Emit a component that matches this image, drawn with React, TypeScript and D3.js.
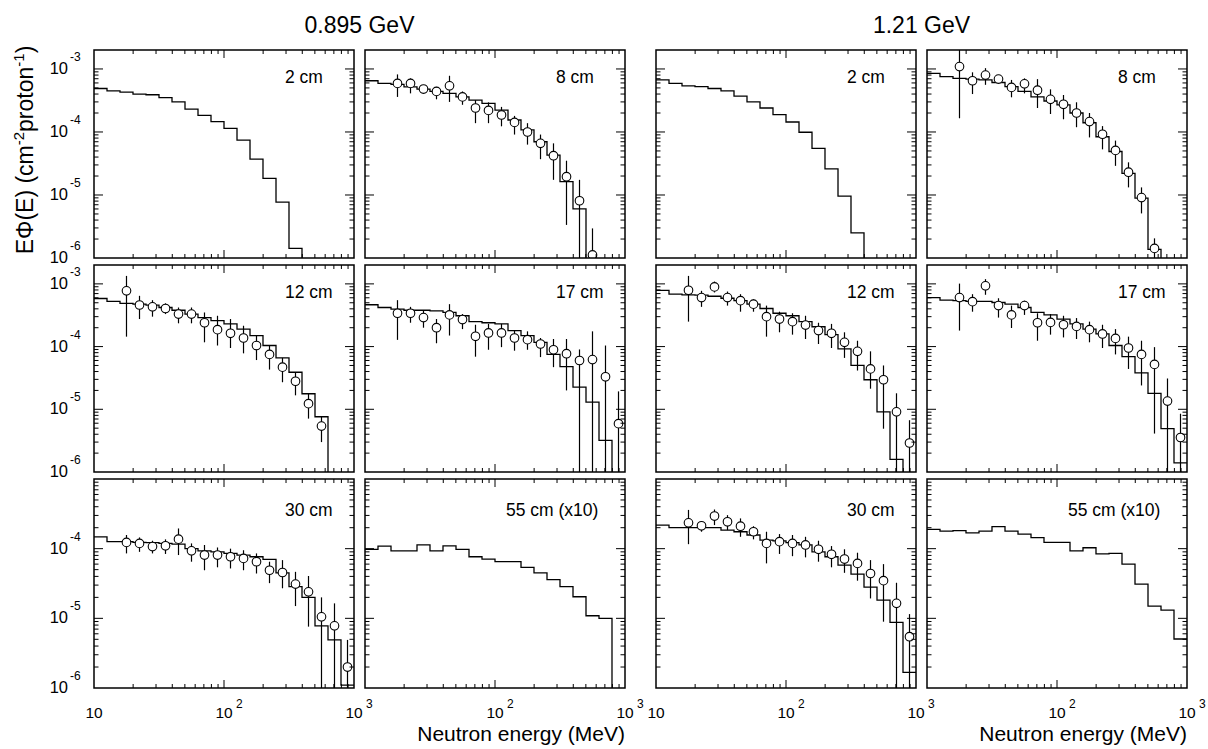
import React from "react";
import * as d3 from "d3";

// histogram bin edges in MeV (10 bins per decade)
const binEdges = [10, 12.59, 15.85, 19.95, 25.12, 31.62, 39.81, 50.12, 63.1, 79.43, 100,
  125.9, 158.5, 199.5, 251.2, 316.2, 398.1, 501.2, 631, 794.3, 1000];
// measured points sit at the centres of bins 2..19
const pointEnergy = [17.78, 22.39, 28.18, 35.48, 44.67, 56.23, 70.79, 89.13, 112.2, 141.3,
  177.8, 223.9, 281.8, 354.8, 446.7, 562.3, 707.9, 891.3];

const beamLabels = ["0.895 GeV", "1.21 GeV"];
const xTickLabels = [10, 100, 1000];

// ---- 0.895 GeV ----
const calc0895_2cm = [4.9e-4, 4.5e-4, 4.3e-4, 4.0e-4, 3.9e-4, 3.5e-4, 3.0e-4, 2.3e-4, 1.84e-4, 1.46e-4,
  1.14e-4, 7.4e-5, 3.7e-5, 1.84e-5, 7.7e-6, 1.42e-6, 0, 0, 0, 0];

const calc0895_8cm = [6.5e-4, 5.9e-4, 5.7e-4, 5.2e-4, 4.8e-4, 4.4e-4, 4.1e-4, 3.6e-4, 3.2e-4, 2.85e-4,
  2.23e-4, 1.55e-4, 1.08e-4, 7.0e-5, 4.3e-5, 1.63e-5, 6.0e-6, 0, 0, 0];
const meas0895_8cm = [5.9e-4, 5.9e-4, 4.8e-4, 4.4e-4, 5.4e-4, 3.6e-4, 2.4e-4, 2.2e-4, 1.86e-4, 1.42e-4,
  1.0e-4, 6.6e-5, 4.2e-5, 1.95e-5, 8.1e-6, 1.12e-6];
const hi0895_8cm = [8.2e-4, 7.1e-4, 5.2e-4, 5.2e-4, 7.8e-4, 4.4e-4, 3.2e-4, 2.95e-4, 2.5e-4, 1.8e-4,
  1.38e-4, 9.1e-5, 6.6e-5, 3.5e-5, 1.74e-5, 2.95e-6];
const lo0895_8cm = [3.6e-4, 4.1e-4, 4.4e-4, 3.3e-4, 3.0e-4, 2.7e-4, 1.38e-4, 1.38e-4, 1.23e-4, 9.1e-5,
  6.3e-5, 3.7e-5, 1.74e-5, 3.35e-6, 0, 0];

const calc0895_12cm = [5.85e-4, 5.25e-4, 4.9e-4, 4.75e-4, 4.6e-4, 4.2e-4, 3.8e-4, 3.3e-4, 2.9e-4, 2.6e-4,
  2.3e-4, 1.9e-4, 1.5e-4, 1.04e-4, 6.6e-5, 3.9e-5, 1.77e-5, 7.6e-6, 0, 0];
const meas0895_12cm = [7.75e-4, 4.6e-4, 4.3e-4, 4.05e-4, 3.3e-4, 3.3e-4, 2.4e-4, 1.86e-4, 1.63e-4, 1.37e-4,
  1.04e-4, 7.5e-5, 4.7e-5, 2.8e-5, 1.23e-5, 5.4e-6];
const hi0895_12cm = [1.34e-3, 6.45e-4, 5.5e-4, 4.9e-4, 4.2e-4, 4.2e-4, 3.5e-4, 3.1e-4, 2.75e-4, 2.15e-4,
  1.5e-4, 1.04e-4, 6.6e-5, 3.9e-5, 1.77e-5, 7.6e-6];
const lo0895_12cm = [1.44e-4, 2.75e-4, 3.0e-4, 3.3e-4, 2.35e-4, 2.35e-4, 1.17e-4, 1.04e-4, 9.5e-5, 7.8e-5,
  6.1e-5, 4.3e-5, 2.7e-5, 1.67e-5, 7.1e-6, 3.0e-6];

const calc0895_17cm = [4.65e-4, 4.2e-4, 3.96e-4, 3.8e-4, 3.8e-4, 3.7e-4, 3.5e-4, 3.1e-4, 2.5e-4, 2.4e-4,
  2.3e-4, 1.8e-4, 1.5e-4, 1.17e-4, 7.5e-5, 4.8e-5, 2.26e-5, 1.3e-5, 3.2e-6, 0];
const meas0895_17cm = [3.4e-4, 3.4e-4, 2.9e-4, 2.0e-4, 3.2e-4, 2.7e-4, 1.46e-4, 1.65e-4, 1.65e-4, 1.37e-4,
  1.29e-4, 1.1e-4, 8.9e-5, 7.7e-5, 6.0e-5, 6.2e-5, 3.3e-5, 5.9e-6];
const hi0895_17cm = [5.5e-4, 4.3e-4, 3.7e-4, 2.75e-4, 4.75e-4, 3.3e-4, 2.23e-4, 2.3e-4, 2.3e-4, 1.8e-4,
  1.75e-4, 1.37e-4, 1.32e-4, 1.32e-4, 9.0e-5, 1.75e-4, 1.04e-4, 1.93e-5];
const lo0895_17cm = [1.28e-4, 2.4e-4, 2.0e-4, 1.13e-4, 1.5e-4, 1.9e-4, 6.9e-5, 8.9e-5, 9.8e-5, 8.6e-5,
  8.9e-5, 6.8e-5, 4.7e-5, 2.0e-5, 0, 0, 0, 0];

const calc0895_30cm = [1.48e-4, 1.26e-4, 1.26e-4, 1.23e-4, 1.22e-4, 1.19e-4, 1.16e-4, 1.0e-4, 9.3e-5, 9.0e-5,
  8.55e-5, 8.1e-5, 7.65e-5, 7.0e-5, 4.5e-5, 2.85e-5, 2.0e-5, 7.8e-6, 4.9e-6, 1.1e-6];
const meas0895_30cm = [1.23e-4, 1.19e-4, 1.07e-4, 1.1e-4, 1.37e-4, 9.3e-5, 8.1e-5, 8.1e-5, 7.65e-5, 7.25e-5,
  6.5e-5, 4.9e-5, 4.55e-5, 3.1e-5, 2.4e-5, 1.05e-5, 7.8e-6, 2.0e-6];
const hi0895_30cm = [1.57e-4, 1.45e-4, 1.3e-4, 1.36e-4, 1.95e-4, 1.19e-4, 1.13e-4, 1.04e-4, 1.0e-4, 9.5e-5,
  8.55e-5, 6.5e-5, 6.85e-5, 4.65e-5, 4.05e-5, 2.0e-5, 1.64e-5, 4.9e-6];
const lo0895_30cm = [8.55e-5, 9.0e-5, 8.55e-5, 8.4e-5, 8.1e-5, 6.5e-5, 4.9e-5, 5.4e-5, 5.2e-5, 4.9e-5,
  4.4e-5, 3.2e-5, 2.7e-5, 1.5e-5, 7.6e-6, 0, 0, 0];

const calc0895_55cm = [9.8e-5, 1.09e-4, 9.3e-5, 9.3e-5, 1.13e-4, 9.3e-5, 1.1e-4, 9.8e-5, 7.65e-5, 7.1e-5,
  6.5e-5, 6.5e-5, 5.4e-5, 4.5e-5, 3.6e-5, 2.85e-5, 2.04e-5, 1.09e-5, 1.0e-5, 0];

// ---- 1.21 GeV ----
const calc121_2cm = [6.7e-4, 5.9e-4, 5.4e-4, 5.25e-4, 4.9e-4, 4.5e-4, 3.7e-4, 3.0e-4, 2.4e-4, 1.88e-4,
  1.44e-4, 9.9e-5, 5.5e-5, 2.6e-5, 9.6e-6, 2.5e-6, 0, 0, 0, 0];

const calc121_8cm = [8.5e-4, 7.55e-4, 7.1e-4, 6.9e-4, 6.7e-4, 6.1e-4, 5.25e-4, 4.4e-4, 3.6e-4, 3.1e-4,
  2.7e-4, 2.0e-4, 1.4e-4, 8.4e-5, 4.9e-5, 2.2e-5, 8.9e-6, 1.37e-6, 0, 0];
const meas121_8cm = [1.09e-3, 6.5e-4, 8.0e-4, 6.9e-4, 5.1e-4, 5.8e-4, 4.6e-4, 3.3e-4, 2.75e-4, 2.0e-4,
  1.46e-4, 9.2e-5, 5.1e-5, 2.3e-5, 9.1e-6, 1.42e-6];
const hi121_8cm = [3.0e-3, 8.85e-4, 1.03e-3, 7.7e-4, 6.7e-4, 7.1e-4, 6.9e-4, 4.75e-4, 3.86e-4, 2.96e-4,
  2.0e-4, 1.24e-4, 7.3e-5, 3.3e-5, 1.32e-5, 2.05e-6];
const lo121_8cm = [1.65e-4, 4.0e-4, 5.6e-4, 6.1e-4, 3.55e-4, 4.1e-4, 2.4e-4, 1.93e-4, 1.59e-4, 1.19e-4,
  8.2e-5, 5.3e-5, 2.9e-5, 1.32e-5, 5.1e-6, 0];

const calc121_12cm = [7.9e-4, 6.85e-4, 6.7e-4, 6.6e-4, 6.35e-4, 5.9e-4, 5.4e-4, 4.75e-4, 4.05e-4, 3.4e-4,
  3.1e-4, 2.5e-4, 2.07e-4, 1.55e-4, 9.2e-5, 5.0e-5, 2.96e-5, 9.1e-6, 1.59e-6, 0];
const meas121_12cm = [7.9e-4, 6.05e-4, 8.95e-4, 6.05e-4, 5.4e-4, 4.75e-4, 3.0e-4, 2.75e-4, 2.5e-4, 2.2e-4,
  1.8e-4, 1.63e-4, 1.17e-4, 8.4e-5, 4.4e-5, 2.96e-5, 9.1e-6, 2.9e-6];
const hi121_12cm = [1.34e-3, 7.75e-4, 1.09e-3, 7.55e-4, 6.85e-4, 5.7e-4, 4.5e-4, 3.6e-4, 3.4e-4, 3.1e-4,
  2.4e-4, 2.3e-4, 1.69e-4, 1.24e-4, 8.4e-5, 5.0e-5, 1.8e-5, 6.7e-6];
const lo121_12cm = [2.5e-4, 4.3e-4, 7.3e-4, 4.5e-4, 3.6e-4, 3.6e-4, 1.44e-4, 1.69e-4, 1.55e-4, 1.32e-4,
  1.1e-4, 9.5e-5, 6.6e-5, 4.15e-5, 2.13e-5, 4.9e-6, 0, 0];

const calc121_17cm = [6.05e-4, 5.5e-4, 5.4e-4, 5.25e-4, 5.25e-4, 5.05e-4, 4.75e-4, 4.2e-4, 3.5e-4, 3.2e-4,
  2.75e-4, 2.3e-4, 1.9e-4, 1.59e-4, 1.04e-4, 6.9e-5, 3.8e-5, 1.8e-5, 4.9e-6, 1.4e-6];
const meas121_17cm = [6.05e-4, 5.2e-4, 9.3e-4, 4.5e-4, 3.2e-4, 4.5e-4, 2.4e-4, 2.43e-4, 2.23e-4, 2.1e-4,
  1.86e-4, 1.59e-4, 1.35e-4, 9.5e-5, 7.5e-5, 5.2e-5, 1.35e-5, 3.55e-6];
const hi121_17cm = [1.01e-3, 6.85e-4, 1.19e-3, 5.9e-4, 4.5e-4, 5.4e-4, 3.4e-4, 3.3e-4, 3.1e-4, 2.85e-4,
  2.5e-4, 2.23e-4, 1.9e-4, 1.44e-4, 1.24e-4, 9.8e-5, 3.1e-5, 8.5e-6];
const lo121_17cm = [1.8e-4, 3.6e-4, 6.7e-4, 2.9e-4, 1.98e-4, 3.2e-4, 1.24e-4, 1.55e-4, 1.4e-4, 1.32e-4,
  1.17e-4, 9.5e-5, 7.5e-5, 4.4e-5, 2.4e-5, 4.1e-6, 0, 0];

const calc121_30cm = [2.18e-4, 2.0e-4, 2.0e-4, 2.0e-4, 2.0e-4, 1.85e-4, 1.75e-4, 1.57e-4, 1.33e-4, 1.29e-4,
  1.22e-4, 1.13e-4, 9.0e-5, 7.65e-5, 5.8e-5, 4.3e-5, 2.8e-5, 1.83e-5, 8.75e-6, 1.68e-6];
const meas121_30cm = [2.35e-4, 2.13e-4, 2.94e-4, 2.43e-4, 2.1e-4, 1.75e-4, 1.19e-4, 1.26e-4, 1.19e-4, 1.13e-4,
  9.8e-5, 8.3e-5, 7.1e-5, 6.15e-5, 4.4e-5, 3.47e-5, 1.64e-5, 5.45e-6];
const hi121_30cm = [3.6e-4, 2.43e-4, 3.65e-4, 3.03e-4, 2.72e-4, 2.1e-4, 1.75e-4, 1.62e-4, 1.57e-4, 1.48e-4,
  1.3e-4, 1.09e-4, 9.8e-5, 8.75e-5, 6.85e-5, 6.0e-5, 3.24e-5, 1.15e-5];
const lo121_30cm = [1.16e-4, 1.75e-4, 2.18e-4, 1.85e-4, 1.48e-4, 1.36e-4, 6.15e-5, 8.4e-5, 7.8e-5, 7.5e-5,
  6.5e-5, 5.4e-5, 4.5e-5, 3.47e-5, 1.93e-5, 8.95e-6, 0, 0];

const calc121_55cm = [1.89e-4, 1.79e-4, 1.81e-4, 1.69e-4, 1.79e-4, 2.07e-4, 1.79e-4, 1.62e-4, 1.44e-4, 1.23e-4,
  1.23e-4, 9.3e-5, 1.03e-4, 8.4e-5, 8.55e-5, 6.0e-5, 3.1e-5, 1.5e-5, 1.31e-5, 5.05e-6];

// panels in reading order, 4 columns x 3 rows
const panels = [
  { label: "2 cm", calc: calc0895_2cm },
  { label: "8 cm", calc: calc0895_8cm, meas: meas0895_8cm, hi: hi0895_8cm, lo: lo0895_8cm },
  { label: "2 cm", calc: calc121_2cm },
  { label: "8 cm", calc: calc121_8cm, meas: meas121_8cm, hi: hi121_8cm, lo: lo121_8cm },
  { label: "12 cm", calc: calc0895_12cm, meas: meas0895_12cm, hi: hi0895_12cm, lo: lo0895_12cm },
  { label: "17 cm", calc: calc0895_17cm, meas: meas0895_17cm, hi: hi0895_17cm, lo: lo0895_17cm },
  { label: "12 cm", calc: calc121_12cm, meas: meas121_12cm, hi: hi121_12cm, lo: lo121_12cm },
  { label: "17 cm", calc: calc121_17cm, meas: meas121_17cm, hi: hi121_17cm, lo: lo121_17cm },
  { label: "30 cm", calc: calc0895_30cm, meas: meas0895_30cm, hi: hi0895_30cm, lo: lo0895_30cm },
  { label: "55 cm (x10)", calc: calc0895_55cm },
  { label: "30 cm", calc: calc121_30cm, meas: meas121_30cm, hi: hi121_30cm, lo: lo121_30cm },
  { label: "55 cm (x10)", calc: calc121_55cm },
];

const yExponents = [[-3, -4, -5, -6], [-3, -4, -5, -6], [-4, -5, -6]];

// layout
const W = 1208, H = 749;
const colLeft = [94, 365, 656, 927];
const panelW = 260;
const rowTop = [50, 265, 479];
const rowH = [208, 207, 209];
const rowRange = [[1e-6, 2e-3], [1e-6, 2e-3], [1e-6, 1e-3]];
const font = "'Liberation Sans', Arial, Helvetica, sans-serif";

const xMinor = [20, 30, 40, 50, 60, 70, 80, 90, 200, 300, 400, 500, 600, 700, 800, 900];

function Panel({ p, col, row }) {
  const left = colLeft[col], top = rowTop[row], h = rowH[row];
  const right = left + panelW, bottom = top + h;
  const x = d3.scaleLog().domain([10, 1000]).range([left, right]);
  const y = d3.scaleLog().domain(rowRange[row]).range([bottom, top]);
  const yy = (v) => (v > 0 ? y(v) : bottom + 10);
  const clipId = `clip-${row}-${col}`;

  // step histogram
  let last = -1;
  p.calc.forEach((v, i) => { if (v > 0) last = i; });
  const pts = [];
  for (let i = 0; i <= last; i++) pts.push([x(binEdges[i]), yy(p.calc[i])]);
  pts.push([x(binEdges[last + 1]), yy(p.calc[last])]);
  if (last < p.calc.length - 1) pts.push([x(binEdges[last + 1]), bottom + 10]);
  const step = d3.line().curve(d3.curveStepAfter)(pts);

  const yTicks = y.ticks().filter((t) => t > rowRange[row][0] * 1.001 && t < rowRange[row][1] * 0.999);
  const isMajor = (t) => Math.abs(Math.log10(t) - Math.round(Math.log10(t))) < 1e-6;

  const labelX = left + (p.label.length > 6 ? 141 : 191);
  const labelY = top + (row === 2 ? 37 : 33);

  return (
    <g>
      <defs>
        <clipPath id={clipId}>
          <rect x={left} y={top} width={panelW} height={h} />
        </clipPath>
      </defs>
      <g clipPath={`url(#${clipId})`}>
        <path d={step} fill="none" stroke="#000" strokeWidth={1.3} />
        {p.meas && p.meas.map((v, i) => (
          <line key={"e" + i} x1={x(pointEnergy[i])} x2={x(pointEnergy[i])}
            y1={yy(p.lo[i])} y2={yy(p.hi[i])} stroke="#000" strokeWidth={1.2} />
        ))}
        {p.meas && p.meas.map((v, i) => (
          <circle key={"c" + i} cx={x(pointEnergy[i])} cy={yy(v)} r={4.3}
            fill="#fff" stroke="#000" strokeWidth={1.1} />
        ))}
      </g>
      {/* ticks on all four sides, pointing inward */}
      {xMinor.concat([100]).map((t) => {
        const len = t === 100 ? 8 : 4;
        return (
          <g key={"xt" + t}>
            <line x1={x(t)} x2={x(t)} y1={top} y2={top + len} stroke="#000" strokeWidth={1} />
            <line x1={x(t)} x2={x(t)} y1={bottom} y2={bottom - len} stroke="#000" strokeWidth={1} />
          </g>
        );
      })}
      {yTicks.map((t, i) => {
        const len = isMajor(t) ? 9 : 4.5;
        return (
          <g key={"yt" + i}>
            <line x1={left} x2={left + len} y1={y(t)} y2={y(t)} stroke="#000" strokeWidth={1} />
            <line x1={right} x2={right - len} y1={y(t)} y2={y(t)} stroke="#000" strokeWidth={1} />
          </g>
        );
      })}
      <rect x={left} y={top} width={panelW} height={h} fill="none" stroke="#000" strokeWidth={1.5} />
      <text x={labelX} y={labelY} fontFamily={font} fontSize={17.5} fill="#000">{p.label}</text>

      {col === 0 && yExponents[row].map((e) => {
        const ty = y(Math.pow(10, e));
        return (
          <g key={"yl" + e} fontFamily={font} fill="#000">
            <text x={68} y={ty + 5} fontSize={16.5} textAnchor="end">10</text>
            <text x={70} y={ty - 8} fontSize={12}>{e}</text>
          </g>
        );
      })}

      {row === 2 && xTickLabels.filter((t) => !(t === 10 && (col === 1 || col === 3))).map((t) => {
        const tx = x(t);
        const exp = Math.round(Math.log10(t));
        return (
          <g key={"xl" + t} fontFamily={font} fill="#000">
            <text x={tx} y={718} fontSize={15.5} textAnchor="middle">10</text>
            {exp > 1 && <text x={tx + 12} y={708} fontSize={12}>{exp}</text>}
          </g>
        );
      })}
    </g>
  );
}

export default function App() {
  return (
    <svg width={W} height={H} style={{ position: "absolute", left: 0, top: 0, background: "#fff" }}>
      <rect x={0} y={0} width={W} height={H} fill="#fff" />
      {panels.map((p, i) => (
        <Panel key={i} p={p} col={i % 4} row={Math.floor(i / 4)} />
      ))}
      <text x={(colLeft[0] + colLeft[1] + panelW) / 2} y={33} fontFamily={font} fontSize={23}
        textAnchor="middle" fill="#000">{beamLabels[0]}</text>
      <text x={(colLeft[2] + colLeft[3] + panelW) / 2} y={33} fontFamily={font} fontSize={23}
        textAnchor="middle" fill="#000">{beamLabels[1]}</text>

      <text transform="translate(33,150) rotate(-90)" fontFamily={font} fontSize={23}
        textAnchor="middle" fill="#000">
        EΦ(E) (cm<tspan dy={-9} fontSize={15}>-2</tspan><tspan dy={9}>proton</tspan>
        <tspan dy={-9} fontSize={15}>-1</tspan><tspan dy={9}>)</tspan>
      </text>

      <text x={colLeft[1] + panelW} y={741} fontFamily={font} fontSize={21} textAnchor="end" fill="#000">
        Neutron energy (MeV)
      </text>
      <text x={colLeft[3] + panelW} y={741} fontFamily={font} fontSize={21} textAnchor="end" fill="#000">
        Neutron energy (MeV)
      </text>
    </svg>
  );
}
